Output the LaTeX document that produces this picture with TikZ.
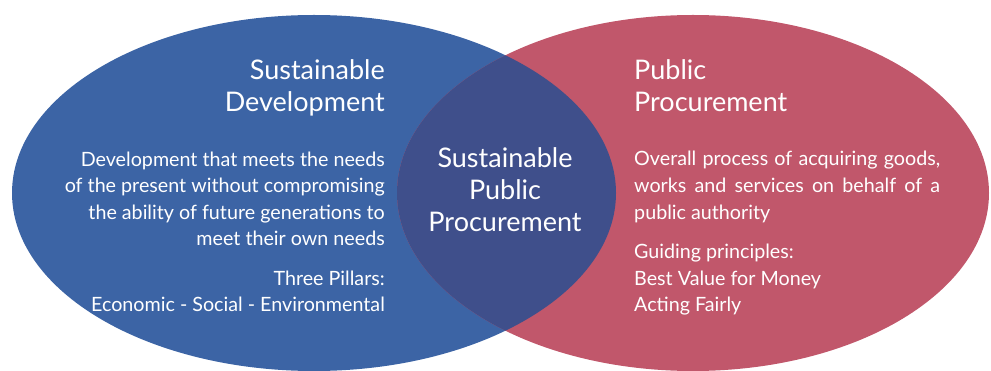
\documentclass[tikz,border=0pt]{standalone}
\usepackage{fontspec}
\setmainfont{Lato}
\definecolor{sdblue}{HTML}{3C64A5}
\definecolor{ppred}{HTML}{C1576B}
\definecolor{sppmid}{HTML}{3F4F8B}

\begin{document}
\begin{tikzpicture}[x=1pt,y=-1pt,
		title/.style={text=white,inner sep=0pt,font=\fontsize{27}{32}\selectfont},
		body/.style={text=white,inner sep=0pt,font=\fontsize{19.7}{26.6}\selectfont}]
		\useasboundingbox (0,0) rectangle (991,371);
		
		% the two circles and their overlap
		\begin{scope}
		\clip (0,0) rectangle (991,371);
		\fill[sdblue] (314,193) ellipse [x radius=302, y radius=178];
		\fill[ppred] (693,193) ellipse [x radius=296, y radius=178];
		\clip (314,193) ellipse [x radius=302, y radius=178];
		\fill[sppmid] (693,193) ellipse [x radius=296, y radius=178];
		\end{scope}
		
		% sustainable development (base = last line)
		\node[title,anchor=base east,align=right] (sdtitle) at (385,112) {Sustainable\\Development};
		\node[body,anchor=base east,align=right] (sddef) at (385,246) {Development that meets the needs\\of the present without compromising\\the ability of future generations to\\meet their own needs};
		\node[body,anchor=base east,align=right] (sdpillars) at (385,312) {Three Pillars:\\Economic - Social - Environmental};
		
		% overlap
		\node[title,anchor=base,align=center] (spp) at (505,232) {Sustainable\\Public\\Procurement};
		
		% public procurement
		\node[title,anchor=base west,align=left] (pptitle) at (634,112) {Public\\Procurement};
		\node[body,anchor=base west,text width=306pt,align=justify] (ppdef) at (634,166) {Overall process of acquiring goods,\linebreak works and services on behalf of a\linebreak public authority};
		\node[body,anchor=base west,align=left] (ppprinc) at (634,312) {Guiding principles:\\Best Value for Money\\Acting Fairly};
\end{tikzpicture}
\end{document}
